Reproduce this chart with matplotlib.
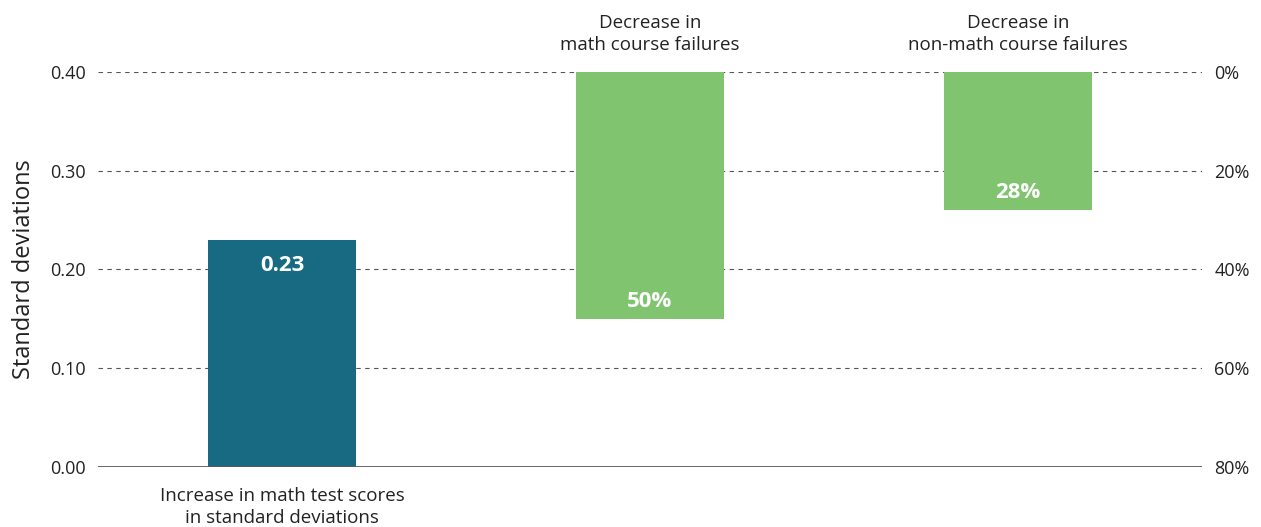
import matplotlib.pyplot as plt

plt.rcParams["font.family"] = ["Open Sans", "DejaVu Sans"]

# left axis: test score effect in standard deviations
score_labels = ["Increase in math test scores\nin standard deviations"]
score_values = [0.23]
score_text = ["0.23"]

# right axis (inverted): decrease in failures, percent
fail_labels = ["Decrease in\nmath course failures",
               "Decrease in\nnon-math course failures"]
fail_values = [50, 28]
fail_text = ["50%", "28%"]

left_ticks = [0.0, 0.1, 0.2, 0.3, 0.4]
right_ticks = [0, 20, 40, 60, 80]

TEAL = "#176a82"
GREEN = "#81c46f"
W = 0.4

fig = plt.figure(figsize=(12.61, 5.27), dpi=100)
ax = fig.add_axes([0.0777, 0.1139, 0.8755, 0.7495])
ax2 = ax.twinx()

ax.set_xlim(-0.5, 2.5)
ax.set_ylim(0, 0.40)
ax2.set_ylim(80, 0)

ax.bar([0], score_values, width=W, color=TEAL, zorder=3)
for i, v in enumerate(score_values):
    ax.text(i, v - 0.026, score_text[i], ha="center", va="center",
            color="white", fontsize=16, fontweight="bold", zorder=4)

xs = [1, 2]
ax2.bar(xs, fail_values, width=W, color=GREEN, zorder=3)
for x, v, t in zip(xs, fail_values, fail_text):
    ax2.text(x, v - 3.6, t, ha="center", va="center",
             color="white", fontsize=16, fontweight="bold", zorder=4)

ax.set_yticks(left_ticks)
ax.set_yticklabels(["%.2f" % t for t in left_ticks])
ax2.set_yticks(right_ticks)
ax2.set_yticklabels(["%d%%" % t for t in right_ticks])

for a in (ax, ax2):
    a.tick_params(axis="y", length=0, labelsize=13, colors="#222222", pad=9)
    for s in a.spines.values():
        s.set_visible(False)
ax.set_xticks([])

ax.grid(axis="y", linestyle=(0, (4, 4)), color="#555555", linewidth=0.8, zorder=0)
ax.set_axisbelow(True)
ax.axhline(0, color="#5a5a5a", linewidth=2, zorder=5)

ax.set_ylabel("Standard deviations", fontsize=17, color="#222222", labelpad=10)

# category labels
ax.text(0, -0.02, score_labels[0], ha="center", va="top", fontsize=13.5,
        color="#222222", linespacing=1.3)
for x, lab in zip(xs, fail_labels):
    ax.text(x, 0.418, lab, ha="center", va="bottom", fontsize=13.5,
            color="#222222", linespacing=1.3)

fig.savefig("out.png", dpi=100)
